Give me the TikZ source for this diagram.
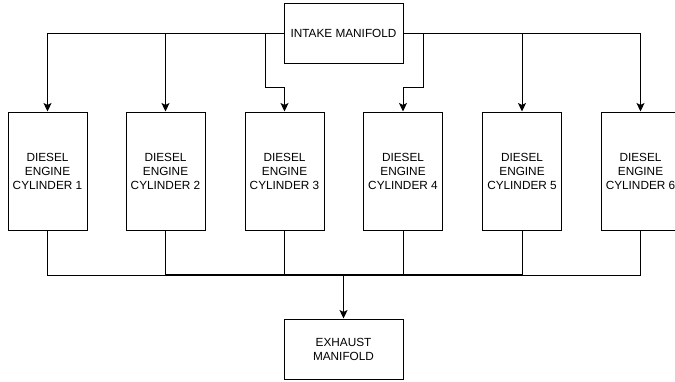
\documentclass[tikz,border=0pt]{standalone}
\usepackage{fontspec}
\setmainfont{Liberation Sans}
\usetikzlibrary{arrows.meta}
\begin{document}
\begin{tikzpicture}[x=1pt,y=-1pt,
  box/.style={draw, line width=1pt, fill=white, align=center, inner sep=0pt,
    font=\fontsize{11.8}{14}\selectfont},
  manbox/.style={box, minimum width=119pt, minimum height=60pt},
  cylbox/.style={box, minimum width=79pt, minimum height=118pt},
  wire/.style={line width=1pt},
  arr/.style={wire, -{Stealth[length=8.5pt,width=8pt,inset=2pt]}}]
\useasboundingbox (0,0) rectangle (675,381);
\node[manbox] (intake) at (343.5,33) {INTAKE MANIFOLD};
\node[cylbox] (c1) at (47.5,171) {DIESEL\\ENGINE\\CYLINDER 1};
\node[cylbox] (c2) at (165.5,171) {DIESEL\\ENGINE\\CYLINDER 2};
\node[cylbox] (c3) at (284.5,171) {DIESEL\\ENGINE\\CYLINDER 3};
\node[cylbox] (c4) at (403,171) {DIESEL\\ENGINE\\CYLINDER 4};
\node[cylbox] (c5) at (522,171) {DIESEL\\ENGINE\\CYLINDER 5};
\node[cylbox] (c6) at (640.5,171) {DIESEL\\ENGINE\\CYLINDER 6};
\node[manbox] (exh) at (343.5,349) {EXHAUST\\MANIFOLD};
\coordinate (k3) at (265,87);
\coordinate (k4) at (423,87);
\coordinate (bus) at (343.5,275);
\draw[arr] (intake.west) -| (c1.north);
\draw[arr] (intake.west) -| (c2.north);
\draw[arr] (intake.west) -| (k3) -| (c3.north);
\draw[arr] (intake.east) -| (k4) -| (c4.north);
\draw[arr] (intake.east) -| (c5.north);
\draw[arr] (intake.east) -| (c6.north);
\foreach \c in {c1,c2,c3,c4,c5,c6}{
  \draw[wire] (\c.south) |- (bus);
}
\draw[wire, line width=1.3pt] (c2.south |- bus) -- (c5.south |- bus);
\draw[arr, line width=1.6pt] (bus) -- (exh.north);
\end{tikzpicture}
\end{document}
